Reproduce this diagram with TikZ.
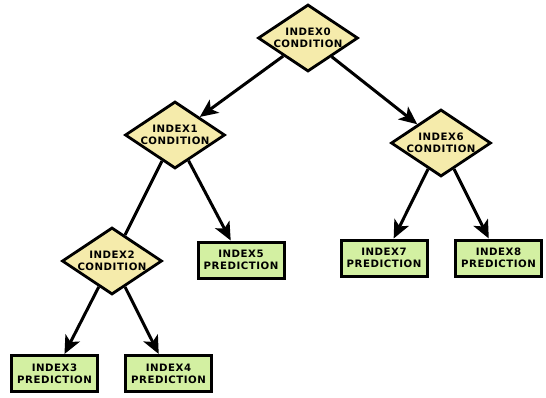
\documentclass[tikz,border=0pt]{standalone}
\usepackage{fontspec}
\setmainfont{DejaVu Sans}[LetterSpace=5]
\usetikzlibrary{shapes.geometric,arrows.meta}

\definecolor{condfill}{HTML}{F5EBAB}
\definecolor{predfill}{HTML}{D3F0A2}

\tikzset{
  label font/.style={font=\bfseries\fontsize{10.2}{11.8}\selectfont, align=center},
  condnode/.style={diamond, draw=black, line width=2.8pt, fill=condfill,
    minimum width=100pt, minimum height=67pt, aspect=1.5, inner sep=0pt, label font},
  prednode/.style={rectangle, draw=black, line width=3pt, fill=predfill,
    minimum width=86pt, minimum height=36pt, inner sep=0pt, label font},
  edge/.style={line width=3pt, -{Stealth[length=18pt,width=16pt,inset=4.5pt]}},
  plainedge/.style={line width=3pt}
}

\begin{document}
\begin{tikzpicture}[x=1pt,y=-1pt]
  \useasboundingbox (0,0) rectangle (546,397);

  % split nodes
  \node[condnode] (c0) at (308,38)  {INDEX0\\CONDITION};
  \node[condnode] (c1) at (175,135) {INDEX1\\CONDITION};
  \node[condnode] (c6) at (441,143) {INDEX6\\CONDITION};
  \node[condnode] (c2) at (112,261) {INDEX2\\CONDITION};

  % leaves
  \node[prednode] (p5) at (241,260)   {INDEX5\\PREDICTION};
  \node[prednode] (p7) at (384,258)   {INDEX7\\PREDICTION};
  \node[prednode] (p8) at (498.5,258) {INDEX8\\PREDICTION};
  \node[prednode] (p3) at (54.5,373.5){INDEX3\\PREDICTION};
  \node[prednode] (p4) at (168.5,373.5){INDEX4\\PREDICTION};

  % branches
  \draw[edge] (c0) -- (c1);
  \draw[edge] (c0) -- (c6);
  \draw[plainedge] (c1) -- (c2);
  \draw[edge] (c1) -- (p5);
  \draw[edge] (c6) -- (p7);
  \draw[edge] (c6) -- (p8);
  \draw[edge] (c2) -- (p3);
  \draw[edge] (c2) -- (p4);
\end{tikzpicture}
\end{document}
